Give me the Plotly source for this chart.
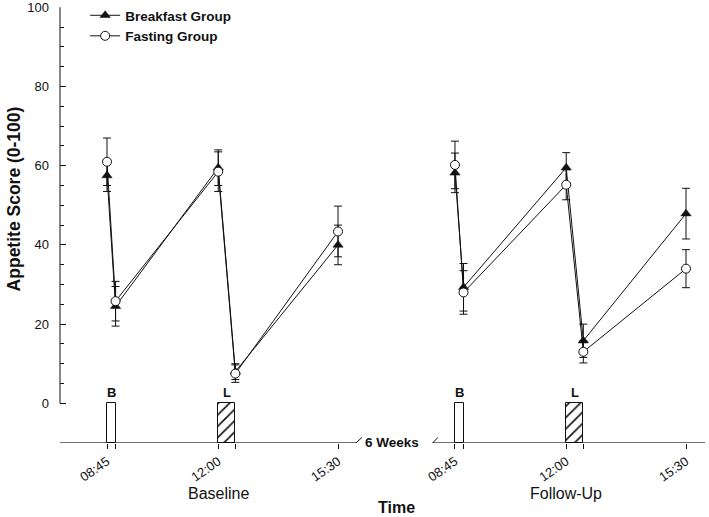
import plotly.graph_objects as go

# ---- data ----
# minutes after 08:45 on each test day
times_day = [0, 15, 195, 225, 405]
followup_offset = 610  # visual shift of the follow-up day on the axis
tick_labels_day = ["08:45", "", "12:00", "", "15:30"]

breakfast_baseline = [57.5, 24.5, 59.5, 8.0, 40.0]
breakfast_baseline_se = [4.0, 5.0, 4.5, 2.0, 5.0]
fasting_baseline = [61.0, 25.8, 58.5, 7.5, 43.4]
fasting_baseline_se = [6.0, 5.0, 5.0, 2.2, 6.4]

breakfast_followup = [58.2, 29.3, 59.5, 15.8, 47.9]
breakfast_followup_se = [5.0, 6.0, 3.8, 4.2, 6.4]
fasting_followup = [60.2, 28.0, 55.2, 13.0, 34.0]
fasting_followup_se = [6.0, 5.5, 3.8, 2.8, 4.8]

meal_labels = ["B", "L", "B", "L"]
meal_start = [0, 195, 0, 195]
meal_duration = [15, 30, 15, 30]
meal_day_offset = [0, 0, followup_offset, followup_offset]
meal_patterns = ["", "/", "", "/"]

period_names = ["Baseline", "Follow-Up"]

# ---- derived ----
t_base = times_day
t_fu = [t + followup_offset for t in times_day]
x_all = t_base + [None] + t_fu

FONT = "Liberation Sans, Arial, sans-serif"
INK = "#111111"

fig = go.Figure()

# meal bars (from -10 to 0)
bar_x = [s + d / 2 + o for s, d, o in zip(meal_start, meal_duration, meal_day_offset)]
fig.add_trace(go.Bar(
    x=bar_x, y=[10] * len(bar_x), base=[-10] * len(bar_x), width=meal_duration,
    marker=dict(color="white", line=dict(color=INK, width=1),
                pattern=dict(shape=meal_patterns, fgcolor=INK, fgopacity=1, bgcolor="white",
                             size=8, solidity=0.2)),
    showlegend=False, hoverinfo="skip",
))

fig.add_trace(go.Scatter(
    x=x_all, y=breakfast_baseline + [None] + breakfast_followup,
    mode="lines+markers", name="<b>Breakfast Group</b>",
    line=dict(color=INK, width=1),
    marker=dict(symbol="triangle-up", size=9, color=INK, line=dict(color=INK, width=0.5)),
    error_y=dict(type="data", array=breakfast_baseline_se + [None] + breakfast_followup_se,
                 color=INK, thickness=1, width=4),
    connectgaps=False,
))
fig.add_trace(go.Scatter(
    x=x_all, y=fasting_baseline + [None] + fasting_followup,
    mode="lines+markers", name="<b>Fasting Group</b>",
    line=dict(color=INK, width=1),
    marker=dict(symbol="circle", size=9, color="white", line=dict(color=INK, width=1)),
    error_y=dict(type="data", array=fasting_baseline_se + [None] + fasting_followup_se,
                 color=INK, thickness=1, width=4),
    connectgaps=False,
))

# x range
x_lo, x_hi = -82.4, 1048.3
gap_l, gap_r = 438, 571

shapes = [
    # y axis line 0..100
    dict(type="line", xref="paper", yref="y", x0=0, x1=0, y0=0, y1=100,
         line=dict(color=INK, width=1)),
    # broken x axis line
    dict(type="line", xref="x", yref="y", x0=x_lo, x1=gap_l, y0=-10, y1=-10,
         line=dict(color=INK, width=1)),
    dict(type="line", xref="x", yref="y", x0=gap_r, x1=x_hi, y0=-10, y1=-10,
         line=dict(color=INK, width=1)),
    # break marks
    dict(type="line", xref="x", yref="y", x0=gap_l - 12, x1=gap_l + 9, y0=-11.4, y1=-8.6,
         line=dict(color=INK, width=1)),
    dict(type="line", xref="x", yref="y", x0=gap_r - 9, x1=gap_r + 9, y0=-11.4, y1=-8.6,
         line=dict(color=INK, width=1)),
]

annotations = []
for lab, bx in zip(meal_labels, bar_x):
    annotations.append(dict(x=bx, y=0, xref="x", yref="y", text="<b>%s</b>" % lab,
                            showarrow=False, yanchor="bottom", yshift=1,
                            font=dict(family=FONT, size=13, color=INK)))
for name, off in zip(period_names, [0, followup_offset]):
    annotations.append(dict(x=195 + off, y=-0.1147, xref="x", yref="paper", text=name,
                            showarrow=False, yanchor="middle",
                            font=dict(family=FONT, size=16, color=INK)))
annotations += [
    dict(x=0.521, y=-0.149, xref="paper", yref="paper", text="<b>Time</b>",
         showarrow=False, yanchor="middle", font=dict(family=FONT, size=16, color=INK)),
    dict(x=(gap_l + gap_r) / 2 - 5, y=-10, xref="x", yref="y", text="<b>6 Weeks</b>",
         showarrow=False, yanchor="middle", font=dict(family=FONT, size=13.5, color=INK)),
    dict(x=-0.0713, y=51.5, xref="paper", yref="y", text="<b>Appetite Score (0-100)</b>",
         textangle=-90, showarrow=False, xanchor="center", yanchor="middle",
         font=dict(family=FONT, size=17.5, color=INK)),
]

fig.update_layout(
    width=709, height=517,
    margin=dict(l=60, r=4, t=7, b=74, autoexpand=False),
    paper_bgcolor="white", plot_bgcolor="white",
    font=dict(family=FONT, color=INK),
    shapes=shapes, annotations=annotations,
    legend=dict(x=0.039, y=1.0, xref="paper", yref="container",
                xanchor="left", yanchor="top",
                bgcolor="rgba(0,0,0,0)", font=dict(family=FONT, size=13.5, color=INK)),
    bargap=0,
)

fig.update_xaxes(
    range=[x_lo, x_hi], showline=False, showgrid=False, zeroline=False,
    tickmode="array", tickvals=t_base + t_fu, ticktext=tick_labels_day + tick_labels_day,
    ticks="outside", ticklen=5, tickcolor=INK, tickwidth=1, tickangle=-35,
    tickfont=dict(family=FONT, size=13, color=INK),
)
fig.update_yaxes(
    range=[-10.02, 100.08], showline=False, showgrid=False, zeroline=False,
    tickmode="array", tickvals=[0, 20, 40, 60, 80, 100],
    ticks="inside", ticklen=6, tickcolor=INK, tickwidth=1,
    ticklabelstandoff=10, ticklabeloverflow="allow",
    tickfont=dict(family=FONT, size=13, color=INK),
    minor=dict(tickmode="array", tickvals=[v for v in range(5, 100, 5) if v % 20],
               ticks="inside", ticklen=4, tickcolor=INK, tickwidth=1),
)

fig.write_html("out.html", config={"displayModeBar": False},
               post_script="document.body.style.margin='0px';document.body.style.overflow='hidden';")
